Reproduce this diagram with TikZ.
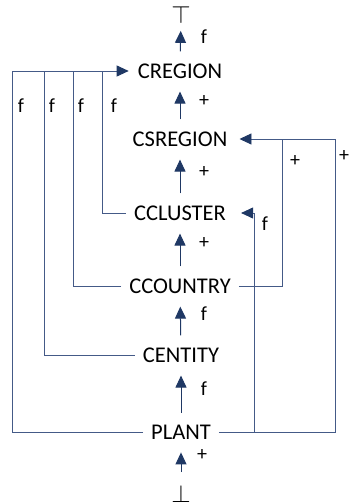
\documentclass[tikz,border=0pt]{standalone}
\usepackage{fontspec}
\setmainfont{Carlito}
\usetikzlibrary{arrows.meta}
\definecolor{navy}{RGB}{31,56,100}
\definecolor{linkblue}{RGB}{68,90,135}
\tikzset{
  level/.style={inner xsep=8pt,inner ysep=6pt,font=\fontsize{22.5}{26}\selectfont},
  bound/.style={inner sep=0pt,font=\fontsize{25}{28}\selectfont},
  lbl/.style={inner sep=0pt,font=\fontsize{20}{24}\selectfont},
  tip/.style={-{Triangle[length=12pt,width=11pt,color=navy]}},
  uparr/.style={draw=navy,line width=1pt,tip,shorten <=6pt,shorten >=7pt},
  link/.style={draw=linkblue,line width=0.9pt},
}
\begin{document}
\begin{tikzpicture}[x=1pt,y=-1pt]
\useasboundingbox (0,0) rectangle (350,502);
% lattice levels
\node[bound] (top) at (181,15) {$\top$};
\node[level] (cregion) at (180,71) {CREGION};
\node[level] (csregion) at (180,139) {CSREGION};
\node[level] (ccluster) at (180,213) {CCLUSTER};
\node[level] (ccountry) at (180,286) {CCOUNTRY};
\node[level] (centity) at (181,355) {CENTITY};
\node[level] (plant) at (181,432) {PLANT};
\node[bound] (bot) at (181,494) {$\bot$};
% chain
\draw[uparr] (cregion) -- (top);
\draw[uparr] (csregion) -- (cregion);
\draw[uparr] (ccluster) -- (csregion);
\draw[uparr] (ccountry) -- (ccluster);
\draw[uparr] (centity) -- (ccountry);
\draw[uparr] (plant) -- (centity);
\draw[uparr,shorten <=13pt] (bot) -- (plant);
\node[lbl] (l1) at (204,37) {f};
\node[lbl] (l2) at (204,101) {+};
\node[lbl] (l3) at (204,172) {+};
\node[lbl] (l4) at (204,243) {+};
\node[lbl] (l5) at (204,314) {f};
\node[lbl] (l6) at (204,389) {f};
\node[lbl] (l7) at (202,455) {+};
% left links into CREGION
\draw[link,tip,shorten >=1pt] (plant.west) -- (12,432) |- (cregion.west);
\draw[link] (centity.west) -| (44,71);
\draw[link] (ccountry.west) -| (73,71);
\draw[link] (ccluster.west) -| (102,71);
\node[lbl] (lf1) at (21,106) {f};
\node[lbl] (lf2) at (52,106) {f};
\node[lbl] (lf3) at (81,106) {f};
\node[lbl] (lf4) at (114,106) {f};
% right links
\draw[link,tip,shorten >=4pt] (plant.east) -- (335,432) |- (csregion.east);
\draw[link] (ccountry.east) -| (282,139);
\draw[link,tip,shorten >=7pt] (254,432) |- (ccluster.east);
\node[lbl] (rp1) at (295,161) {+};
\node[lbl] (rf1) at (265,224) {f};
\node[lbl] (rp2) at (344,156) {+};
\end{tikzpicture}
\end{document}
